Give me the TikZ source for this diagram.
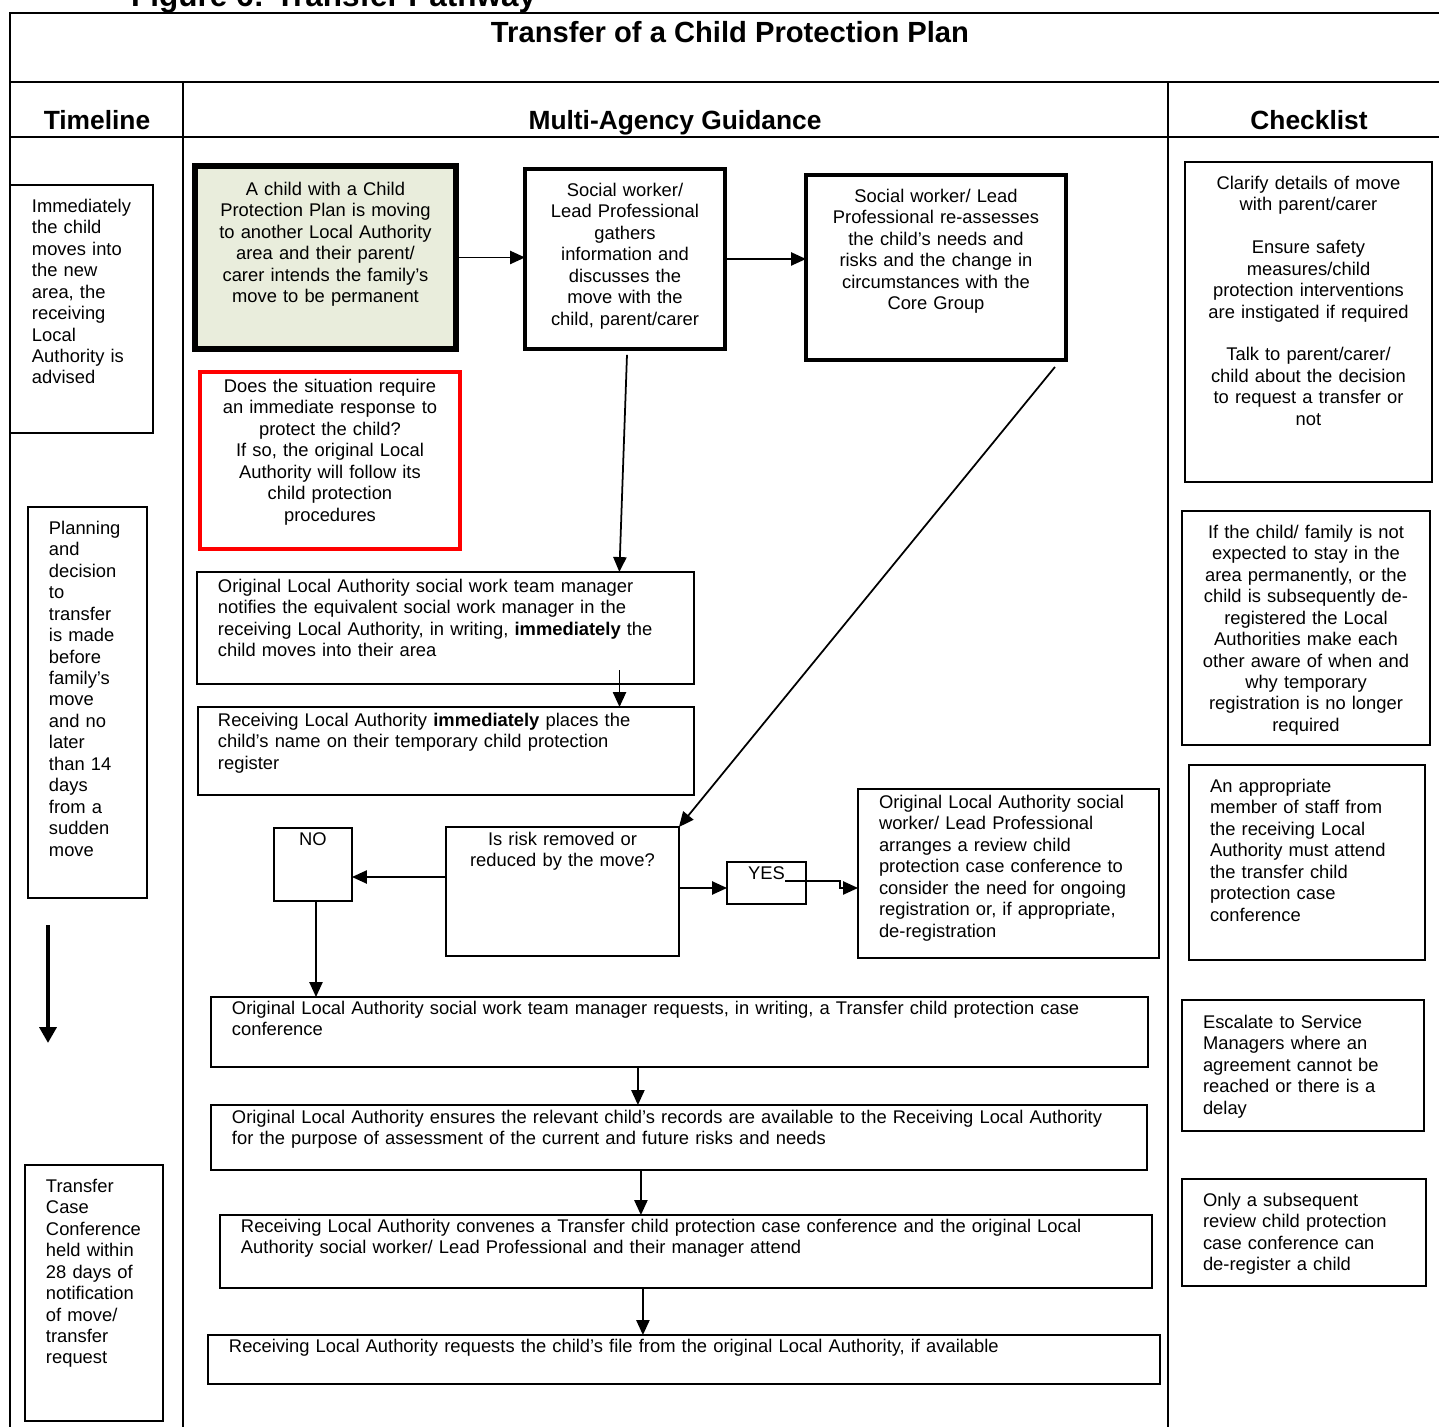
\documentclass[tikz,border=0pt]{standalone}
\usepackage{fontspec}
\setmainfont{Liberation Sans}
\usetikzlibrary{positioning, arrows.meta, calc}
\definecolor{startfill}{HTML}{E9EDDC}
\definecolor{alertred}{HTML}{FF0000}
\hyphenpenalty=10000

\begin{document}
\begin{tikzpicture}[
    x=0.02cm, y=-0.02cm,
    >={Triangle[length=8.5pt, width=7.5pt]},
    every node/.style={font=\fontsize{10.45}{12.2}\selectfont},
    box/.style={
        draw=black, line width=1pt, anchor=north west, outer sep=0pt,
        inner ysep=0pt, inner xsep=#1, align=left
    },
    box/.default=0.42cm,
    midbox/.style={box=#1, align=center},
    midbox/.default=0.2cm,
    heading/.style={font=\bfseries\fontsize{15}{18}\selectfont, anchor=base},
    frame/.style={line width=1.4pt, line cap=rect},
    flow/.style={line width=1pt},
]

\useasboundingbox (0,0) rectangle (1439,1426);

% === Table frame ===
\draw[frame] (10,1440) -- (10,13) -- (1450,13);
\draw[frame] (10,82) -- (1450,82);
\draw[frame] (10,137) -- (1450,137);
\draw[frame] (183,82) -- (183,1440);
\draw[frame] (1168,82) -- (1168,1440);

% === Titles ===
\node[anchor=base west, font=\bfseries\fontsize{17.9}{21}\selectfont] (figtitle) at (125,7)
    {Figure 6: Transfer Pathway};
\node[anchor=base, font=\bfseries\fontsize{16.6}{20}\selectfont] (plantitle) at (730,42.5)
    {Transfer of a Child Protection Plan};
\node[heading] (hdtime) at (97,129.5) {Timeline};
\node[heading] (hdguide) at (675,129.5) {Multi-Agency Guidance};
\node[heading] (hdcheck) at (1309,129.5) {Checklist};

% === Timeline ===
\node[box=0.44cm, text width=1.98cm, text height=0.55cm, text depth=4.41cm] (tlnow) at (10,185)
    {Immediately\\the child\\moves into\\the new\\area, the\\receiving\\Local\\Authority is\\advised};

\node[box, text width=1.54cm, text height=0.55cm, text depth=7.27cm] (tlplan) at (28,507)
    {Planning\\and\\decision\\to\\transfer\\is made\\before\\family’s\\move\\and no\\later\\than 14\\days\\from a\\sudden\\move};

\node[box, text width=1.92cm, text height=0.55cm, text depth=4.57cm] (tlconf) at (25,1165)
    {Transfer\\Case\\Conference\\held within\\28 days of\\notification\\of move/\\transfer\\request};

\coordinate (tltop) at (48,925);
\coordinate (tlbot) at (48,1043);
\draw[-{Triangle[length=9pt, width=9.5pt]}, line width=2.6pt] (tltop) -- (tlbot);

% === Multi-Agency Guidance ===
\node[midbox, line width=3.4pt, fill=startfill, text width=4.82cm, text height=0.59cm, text depth=3.07cm] (start) at (195,166)
    {A child with a Child\\Protection Plan is moving\\to another Local Authority\\area and their parent/\\carer intends the family’s\\move to be permanent};

\node[midbox=0.16cm, line width=2.3pt, text width=3.68cm, text height=0.55cm, text depth=3.05cm] (gather) at (525,169)
    {Social worker/\\Lead Professional\\gathers\\information and\\discusses the\\move with the\\child, parent/carer};

\node[midbox, line width=2.3pt, text width=4.8cm, text height=0.55cm, text depth=3.15cm] (reassess) at (806,175)
    {Social worker/ Lead\\Professional re-assesses\\the child’s needs and\\risks and the change in\\circumstances with the\\Core Group};

\node[midbox, draw=alertred, line width=1.8pt, text width=4.8cm, text height=0.41cm, text depth=3.13cm] (urgent) at (200,372)
    {Does the situation require\\an immediate response to\\protect the child?\\If so, the original Local\\Authority will follow its\\child protection\\procedures};

\node[box, text width=9.1cm, text height=0.41cm, text depth=1.83cm] (notify) at (197,572)
    {Original Local Authority social work team manager\\notifies the equivalent social work manager in the\\receiving Local Authority, in writing, \textbf{immediately} the\\child moves into their area};

\node[box=0.4cm, text width=9.12cm, text height=0.39cm, text depth=1.37cm] (register) at (198,707)
    {Receiving Local Authority \textbf{immediately} places the\\child’s name on their temporary child protection\\register};

\node[midbox=0cm, text width=1.56cm, text height=0.35cm, text depth=1.11cm] (no) at (274,828) {NO};

\node[midbox=0.12cm, text width=4.42cm, text height=0.37cm, text depth=2.21cm] (risk) at (446,827)
    {Is risk removed or\\reduced by the move?};

\node[midbox=0cm, text width=1.58cm, text height=0.35cm, text depth=0.49cm] (yes) at (727,862) {YES};

\node[box, text width=5.18cm, text height=0.39cm, text depth=2.99cm] (review) at (858,789)
    {Original Local Authority social\\worker/ Lead Professional\\arranges a review child\\protection case conference to\\consider the need for ongoing\\registration or, if appropriate,\\de-registration};

\node[box, text width=17.9cm, text height=0.35cm, text depth=1.05cm] (request) at (211,997)
    {Original Local Authority social work team manager requests, in writing, a Transfer child protection case\\conference};

\node[box, text width=17.88cm, text height=0.37cm, text depth=0.93cm] (records) at (211,1105)
    {Original Local Authority ensures the relevant child’s records are available to the Receiving Local Authority\\for the purpose of assessment of the current and future risks and needs};

\node[box, text width=17.8cm, text height=0.35cm, text depth=1.11cm] (convene) at (220,1215)
    {Receiving Local Authority convenes a Transfer child protection case conference and the original Local\\Authority social worker/ Lead Professional and their manager attend};

\node[box, text width=18.2cm, text height=0.35cm, text depth=0.63cm] (file) at (208,1335)
    {Receiving Local Authority requests the child’s file from the original Local Authority, if available};

% === Checklist ===
\node[midbox=0.16cm, text width=4.62cm, text height=0.55cm, text depth=5.85cm] (ckmove) at (1185,162)
    {Clarify details of move\\with parent/carer\\[12.2pt]Ensure safety\\measures/child\\protection interventions\\are instigated if required\\[12.2pt]Talk to parent/carer/\\child about the decision\\to request a transfer or\\not};

\node[midbox=0.16cm, text width=4.64cm, text height=0.55cm, text depth=4.13cm] (ckstay) at (1182,511)
    {If the child/ family is not\\expected to stay in the\\area permanently, or the\\child is subsequently de-\\registered the Local\\Authorities make each\\other aware of when and\\why temporary\\registration is no longer\\required};

\node[box, text width=3.88cm, text height=0.55cm, text depth=3.35cm] (ckstaff) at (1189,765)
    {An appropriate\\member of staff from\\the receiving Local\\Authority must attend\\the transfer child\\protection case\\conference};

\node[box, text width=4.0cm, text height=0.57cm, text depth=2.05cm] (ckescalate) at (1182,1000)
    {Escalate to Service\\Managers where an\\agreement cannot be\\reached or there is a\\delay};

\node[box, text width=4.04cm, text height=0.55cm, text depth=1.59cm] (ckdereg) at (1182,1179)
    {Only a subsequent\\review child protection\\case conference can\\de-register a child};

% ===== ARROWS =====
\draw[->, flow] (start.east) -- (start.east -| gather.west);
\draw[->, flow] (gather.east) -- (gather.east -| reassess.west);

\draw[->, flow] ([xshift=0.04cm, yshift=-0.12cm]gather.south)
    -- ($(notify.north west)!0.85!(notify.north east)$);

\coordinate (regin) at ($(register.north west)!0.85!(register.north east)$);
\draw[->, flow] ([yshift=0.74cm]regin) -- (regin);

\draw[->, flow] ([xshift=-0.22cm, yshift=-0.14cm]reassess.south east) -- (risk.north east);

% decision branches
\coordinate (riskno) at ([yshift=0.29cm]risk.west);
\draw[->, flow] (riskno) -- (riskno -| no.east);

\coordinate (riskyes) at ([yshift=0.07cm]risk.east);
\draw[->, flow] (riskyes) -- (riskyes -| yes.west);

\coordinate (yesout) at ([xshift=0.37cm, yshift=0.04cm]yes.center);
\coordinate (reviewin) at ([yshift=-0.29cm]review.west);
\draw[->, flow] (yesout) -- ++(55,0) |- (reviewin);

\draw[->, flow] ([xshift=0.06cm]no.south) -- ([xshift=0.06cm]no.south |- request.north);

% transfer sequence
\draw[->, flow] ([xshift=-0.83cm]request.south) -- ([xshift=-0.83cm]request.south |- records.north);
\draw[->, flow] ([xshift=-0.76cm]records.south) -- ([xshift=-0.76cm]records.south |- convene.north);
\draw[->, flow] ([xshift=-0.86cm]convene.south) -- ([xshift=-0.86cm]convene.south |- file.north);

\end{tikzpicture}
\end{document}
